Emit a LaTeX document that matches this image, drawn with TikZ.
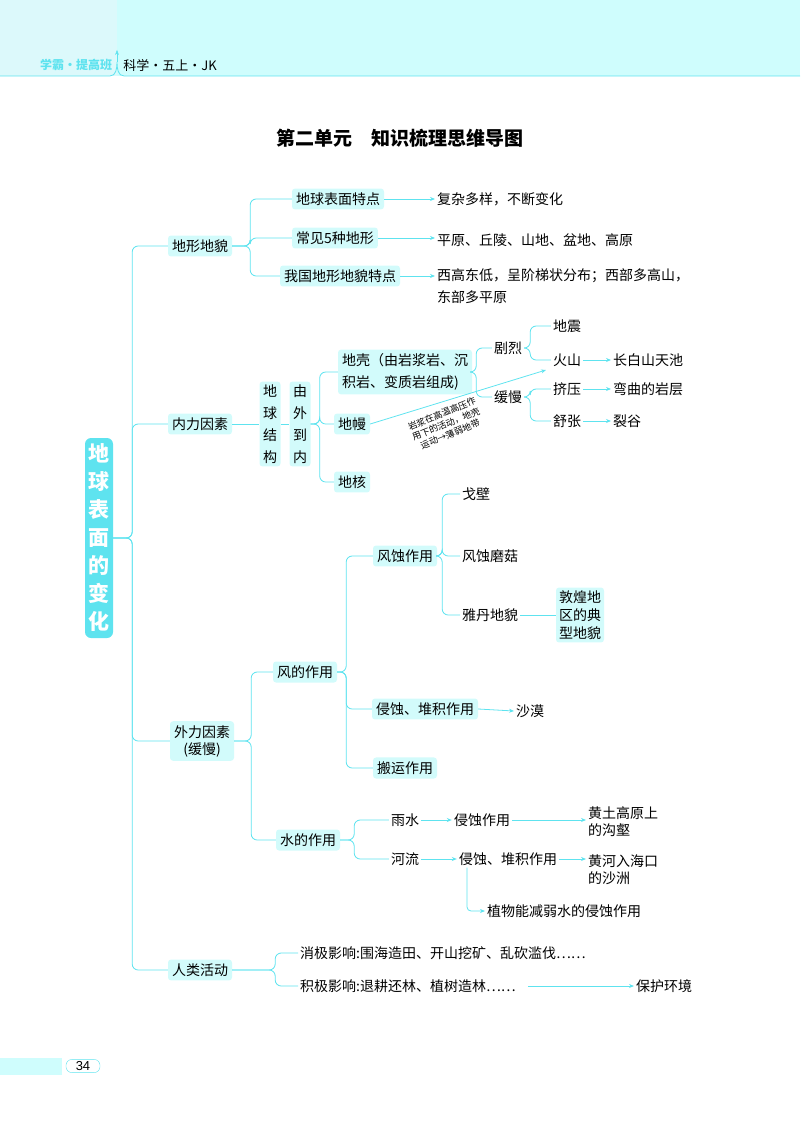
\documentclass[tikz,border=0pt]{standalone}
\usepackage{fontspec}
\setmainfont{Liberation Sans}
\newfontfamily\cjk{Noto Sans CJK SC}
\usetikzlibrary{arrows.meta}
\definecolor{cyl}{HTML}{5EE3EF}
\definecolor{cyf}{HTML}{D2FBFB}
\definecolor{cyh}{HTML}{CFFDFD}
\begin{document}
\begin{tikzpicture}[x=1pt,y=-1pt,
  every node/.style={font=\cjk\fontsize{14}{17}\selectfont,inner sep=2pt},
  bx/.style={fill=cyf,rounded corners=3pt,inner sep=4pt},
  vb/.style={fill=cyf,rounded corners=3pt,inner sep=3pt,align=center,text width=15pt,font=\cjk\fontsize{14}{22}\selectfont},
  tx/.style={align=left},
  br/.style={draw=cyl,line width=0.8pt,rounded corners=6pt},
  ar/.style={draw=cyl,line width=0.8pt,-{Stealth[length=5pt,width=4pt]}}]
\useasboundingbox (0,0) rectangle (800,1123);
% header
\fill[cyh] (0,0) rectangle (800,76);
\fill[cyl!22] (0,0) rectangle (117,76);
\draw[cyl,line width=0.8pt] (0,76) -- (110,76) to[out=0,in=-90] (117,62) to[out=-90,in=180] (124,76) -- (800,76);
\draw[cyl,-{Stealth[length=5pt]}] (117,62) -- (117,50);
\node[font=\cjk\bfseries\fontsize{12}{14}\selectfont,text=cyl] (h1) at (76,65) {学霸·提高班};
\node[font=\cjk\fontsize{13}{16}\selectfont] (h2) at (170,65) {科学·五上·JK};
% title
\node[font=\cjk\bfseries\fontsize{19}{22}\selectfont] (title) at (400,138) {第二单元\quad 知识梳理思维导图};
% root
\node[fill=cyl,rounded corners=6pt,text=white,font=\cjk\bfseries\fontsize{21}{28}\selectfont,align=center,text width=24pt,minimum height=200pt] (root) at (99,538) {地\\球\\表\\面\\的\\变\\化};
\node[bx] (a1) at (200,246) {地形地貌};
\node[bx] (a2) at (200,424) {内力因素};
\node[bx,align=center] (a3) at (202,741) {外力因素\\(缓慢)};
\node[bx] (a4) at (200,970) {人类活动};
\foreach \n in {a1,a2,a3,a4} \draw[br] (root.east) -- ++(19,0) |- (\n.west);
% 地形地貌
\node[bx] (b1) at (338,199) {地球表面特点};
\node[bx] (b2) at (335,238) {常见5种地形};
\node[bx] (b3) at (340,276) {我国地形地貌特点};
\foreach \n in {b1,b2,b3} \draw[br] (a1.east) -- ++(18,0) |- (\n.west);
\node[tx,anchor=west] (c1) at (435,199) {复杂多样，不断变化};
\node[tx,anchor=west] (c2) at (435,240) {平原、丘陵、山地、盆地、高原};
\node[tx,anchor=north west,font=\cjk\fontsize{14}{22}\selectfont] (c3) at (435,266) {西高东低，呈阶梯状分布；西部多高山，\\东部多平原};
\draw[ar] (b1.east) -- (c1.west);
\draw[ar] (b2.east) -- (b2.east -| c2.west);
\draw[ar] (b3.east) -- (b3.east -| c3.west);
% 内力因素
\node[vb] (d1) at (270,424) {地\\球\\结\\构};
\node[vb] (d2) at (300,424) {由\\外\\到\\内};
\draw[br] (a2.east) -- (d1.west);
\draw[br] (d1.east) -- (d2.west);
\node[bx,align=left,font=\cjk\fontsize{14}{22}\selectfont] (e1) at (405,372) {地壳（由岩浆岩、沉\\积岩、变质岩组成)};
\node[bx] (e2) at (352,424) {地幔};
\node[bx] (e3) at (352,482) {地核};
\foreach \n in {e1,e2,e3} \draw[br] (d2.east) -- ++(9,0) |- (\n.west);
\node (f1) at (508,348) {剧烈};
\node (f2) at (508,397) {缓慢};
\foreach \n in {f1,f2} \draw[br] (e1.east) -- ++(4,0) |- (\n.west);
\node (g1) at (567,326) {地震};
\node (g2) at (567,360) {火山};
\node (g3) at (567,389) {挤压};
\node (g4) at (567,421) {舒张};
\foreach \n in {g1,g2} \draw[br] (f1.east) -- ++(6,0) |- (\n.west);
\foreach \n in {g3,g4} \draw[br] (f2.east) -- ++(6,0) |- (\n.west);
\node[anchor=west] (h5) at (611,360) {长白山天池};
\node[anchor=west] (h6) at (611,389) {弯曲的岩层};
\node[anchor=west] (h7) at (611,421) {裂谷};
\draw[ar] (g2.east) -- (h5.west);
\draw[ar] (g3.east) -- (h6.west);
\draw[ar] (g4.east) -- (h7.west);
\coordinate (vol) at (546,370);
\draw[ar] (e2.east) -- (vol);
\node[rotate=22,font=\cjk\fontsize{9}{11}\selectfont,align=center,inner sep=0pt] (note) at (446,424) {岩浆在高温高压作\\用下的活动，地壳\\运动→薄弱地带};
% 外力因素
\node[bx] (i1) at (305,672) {风的作用};
\node[bx] (i2) at (308,840) {水的作用};
\foreach \n in {i1,i2} \draw[br] (a3.east) -- ++(17,0) |- (\n.west);
\node[bx] (j1) at (405,556) {风蚀作用};
\node[bx] (j2) at (425,709) {侵蚀、堆积作用};
\node[bx] (j3) at (405,768) {搬运作用};
\foreach \n in {j1,j2,j3} \draw[br] (i1.east) -- ++(9,0) |- (\n.west);
\node[anchor=west] (k1) at (460,494) {戈壁};
\node[anchor=west] (k2) at (460,556) {风蚀磨菇};
\node[anchor=west] (k3) at (460,615) {雅丹地貌};
\foreach \n in {k1,k2,k3} \draw[br] (j1.east) -- ++(5,0) |- (\n.west);
\node[bx,align=center,font=\cjk\fontsize{14}{18}\selectfont,inner sep=3pt] (k4) at (580,615) {敦煌地\\区的典\\型地貌};
\draw[br] (k3.east) -- (k4.west);
\node[anchor=west] (k5) at (514,711) {沙漠};
\draw[ar] (j2.east) -- (k5.west);
\node (l1) at (405,820) {雨水};
\node (l2) at (405,859) {河流};
\foreach \n in {l1,l2} \draw[br] (i2.east) -- ++(14,0) |- (\n.west);
\node (m1) at (482,820) {侵蚀作用};
\node (m2) at (508,859) {侵蚀、堆积作用};
\draw[ar] (l1.east) -- (m1.west);
\draw[ar] (l2.east) -- (m2.west);
\node[anchor=west,align=left] (n1) at (586,822) {黄土高原上\\的沟壑};
\node[anchor=west,align=left] (n2) at (586,870) {黄河入海口\\的沙洲};
\draw[ar] (m1.east) -- (m1.east -| n1.west);
\draw[ar] (m2.east) -- (m2.east -| n2.west);
\node[anchor=west] (n3) at (485,911) {植物能减弱水的侵蚀作用};
\draw[ar,rounded corners=4pt] ([xshift=-41pt]m2.south) |- (n3.west);
% 人类活动
\node[anchor=west] (o1) at (298,953) {消极影响:围海造田、开山挖矿、乱砍滥伐……};
\node[anchor=west] (o2) at (298,986) {积极影响:退耕还林、植树造林……};
\foreach \n in {o1,o2} \draw[br] (a4.east) -- ++(43,0) |- (\n.west);
\node[anchor=west] (o3) at (634,986) {保护环境};
\draw[ar] ([xshift=10pt]o2.east) -- (o3.west);
% footer
\fill[cyh] (0,1058) rectangle (62,1075);
\node[draw=cyl,rounded corners=6pt,fill=white,font=\fontsize{13}{15}\selectfont,minimum width=34pt,inner sep=2pt] (pg) at (83,1066) {34};
\end{tikzpicture}
\end{document}
